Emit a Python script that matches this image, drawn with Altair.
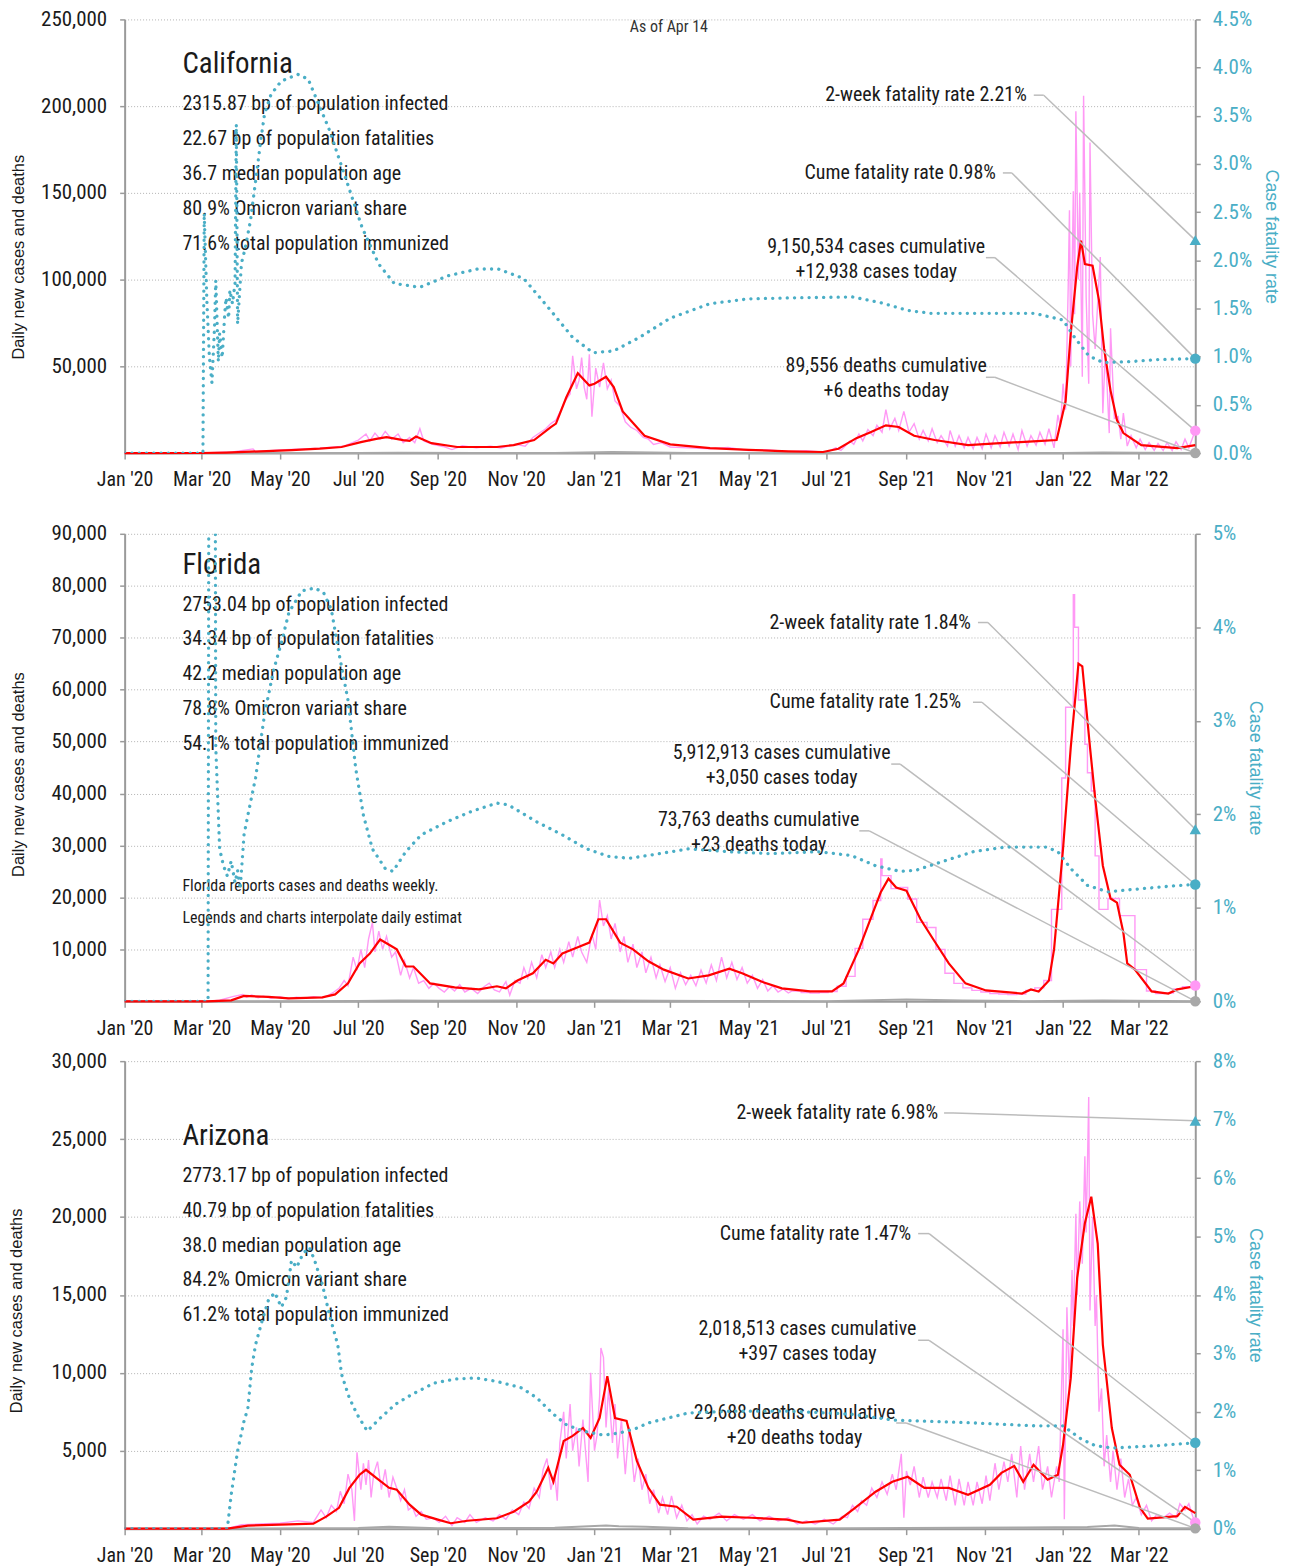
import altair as alt
import pandas as pd

FONT = "Roboto Condensed"
AXFONT = "Liberation Sans"
TEAL = "#4aaec6"
PINK = "#ff99f5"
RED = "#ff0000"
GRAY = "#a8a8a8"
LEADER = "#bcbcbc"
INK = "#1a1a1a"
AXC = "#9a9a9a"
W = 1074

# ---------------- California ----------------
CA_PINK = [("2020-01-01", 0), ("2020-03-01", 50), ("2020-03-25", 600), ("2020-04-10", 2400), ("2020-04-12", 800),
           ("2020-05-01", 1800), ("2020-06-01", 2800), ("2020-06-20", 4000), ("2020-07-01", 7500), ("2020-07-07", 11000),
           ("2020-07-10", 7000), ("2020-07-14", 11500), ("2020-07-18", 8000), ("2020-07-22", 12500), ("2020-07-27", 8000),
           ("2020-08-01", 11000), ("2020-08-05", 6000), ("2020-08-10", 9000), ("2020-08-14", 6000), ("2020-08-18", 14000),
           ("2020-08-21", 7000), ("2020-08-28", 5000), ("2020-09-05", 3800), ("2020-09-12", 2000), ("2020-09-20", 4200),
           ("2020-10-01", 3000), ("2020-10-12", 4000), ("2020-10-20", 2900), ("2020-11-01", 5000), ("2020-11-08", 4000),
           ("2020-11-14", 9000), ("2020-11-20", 12000), ("2020-11-24", 14000), ("2020-11-28", 17000), ("2020-12-02", 19000),
           ("2020-12-06", 25000), ("2020-12-09", 30000), ("2020-12-13", 34000), ("2020-12-15", 56000), ("2020-12-18", 37000),
           ("2020-12-20", 42000), ("2020-12-22", 55000), ("2020-12-24", 38000), ("2020-12-26", 31000), ("2020-12-28", 57000),
           ("2020-12-30", 21000), ("2021-01-02", 49000), ("2021-01-05", 38000), ("2021-01-08", 52000), ("2021-01-11", 37000),
           ("2021-01-14", 42000), ("2021-01-17", 30000), ("2021-01-21", 27000), ("2021-01-25", 18000), ("2021-01-29", 15000),
           ("2021-02-03", 13000), ("2021-02-08", 9000), ("2021-02-12", 8000), ("2021-02-16", 5000), ("2021-02-22", 6000),
           ("2021-03-01", 3500), ("2021-03-15", 3000), ("2021-04-01", 2500), ("2021-04-15", 3200), ("2021-05-01", 1500),
           ("2021-05-15", 2000), ("2021-06-01", 800), ("2021-06-15", 1300), ("2021-07-01", 400), ("2021-07-08", 3000),
           ("2021-07-12", 1500), ("2021-07-19", 7000), ("2021-07-22", 5000), ("2021-07-26", 11000), ("2021-07-29", 7000),
           ("2021-08-02", 13500), ("2021-08-06", 10000), ("2021-08-09", 16000), ("2021-08-13", 12000), ("2021-08-16", 25000),
           ("2021-08-19", 14000), ("2021-08-23", 20000), ("2021-08-26", 13000), ("2021-08-30", 24000), ("2021-09-03", 12000),
           ("2021-09-07", 17000), ("2021-09-11", 8000), ("2021-09-14", 13000), ("2021-09-18", 7000), ("2021-09-21", 14000),
           ("2021-09-25", 6000), ("2021-09-28", 10000), ("2021-10-03", 4000), ("2021-10-05", 13000), ("2021-10-09", 4000),
           ("2021-10-12", 10000), ("2021-10-16", 3000), ("2021-10-19", 9000), ("2021-10-23", 2500), ("2021-10-26", 9000),
           ("2021-10-30", 2500), ("2021-11-02", 11000), ("2021-11-06", 3000), ("2021-11-09", 10000), ("2021-11-13", 3500),
           ("2021-11-16", 12000), ("2021-11-20", 4000), ("2021-11-23", 11000), ("2021-11-27", 2000), ("2021-11-30", 13000),
           ("2021-12-04", 4000), ("2021-12-07", 10000), ("2021-12-11", 4500), ("2021-12-14", 12000), ("2021-12-18", 5000),
           ("2021-12-21", 14000), ("2021-12-25", 3000), ("2021-12-28", 22000), ("2021-12-30", 15000), ("2022-01-01", 40000),
           ("2022-01-03", 25000), ("2022-01-05", 95000), ("2022-01-06", 140000), ("2022-01-07", 50000), ("2022-01-09", 151000),
           ("2022-01-10", 80000), ("2022-01-11", 197000), ("2022-01-13", 100000), ("2022-01-14", 150000), ("2022-01-16", 44000),
           ("2022-01-17", 206000), ("2022-01-19", 90000), ("2022-01-21", 40000), ("2022-01-22", 179000), ("2022-01-24", 80000),
           ("2022-01-26", 60000), ("2022-01-30", 113000), ("2022-02-01", 23000), ("2022-02-03", 60000), ("2022-02-06", 11500),
           ("2022-02-07", 72000), ("2022-02-10", 20000), ("2022-02-13", 21000), ("2022-02-15", 8000), ("2022-02-17", 23000),
           ("2022-02-20", 4000), ("2022-02-23", 10000), ("2022-02-27", 3000), ("2022-03-02", 8000), ("2022-03-06", 2000),
           ("2022-03-09", 6000), ("2022-03-13", 1500), ("2022-03-16", 5500), ("2022-03-20", 1500), ("2022-03-23", 6000),
           ("2022-03-27", 1500), ("2022-03-30", 6500), ("2022-04-03", 2000), ("2022-04-06", 8000), ("2022-04-09", 3000),
           ("2022-04-12", 9000), ("2022-04-14", 12938)]
CA_RED = [("2020-01-01", 0), ("2020-03-01", 20), ("2020-03-20", 300), ("2020-04-08", 800), ("2020-05-10", 1700),
          ("2020-06-01", 2500), ("2020-06-18", 3500), ("2020-07-03", 6300), ("2020-07-15", 8200), ("2020-07-23", 9200),
          ("2020-08-05", 7500), ("2020-08-10", 7000), ("2020-08-15", 9500), ("2020-08-27", 5700), ("2020-09-16", 3500),
          ("2020-10-17", 3500), ("2020-10-30", 4600), ("2020-11-15", 7500), ("2020-11-28", 15000), ("2020-12-02", 17000),
          ("2020-12-10", 32000), ("2020-12-19", 46000), ("2020-12-28", 39000), ("2021-01-01", 40000), ("2021-01-10", 44000),
          ("2021-01-16", 38000), ("2021-01-23", 24000), ("2021-02-09", 10000), ("2021-03-01", 5000), ("2021-04-01", 2800),
          ("2021-05-01", 1800), ("2021-06-01", 1000), ("2021-06-28", 600), ("2021-07-10", 2500), ("2021-07-24", 8600),
          ("2021-08-04", 12000), ("2021-08-16", 16000), ("2021-08-26", 15000), ("2021-09-07", 10000), ("2021-09-23", 7500),
          ("2021-10-19", 4600), ("2021-11-13", 5700), ("2021-12-12", 6900), ("2021-12-27", 7500), ("2022-01-03", 30000),
          ("2022-01-07", 69000), ("2022-01-12", 107000), ("2022-01-15", 122500), ("2022-01-18", 109000), ("2022-01-24", 108000),
          ("2022-01-29", 88000), ("2022-02-02", 60000), ("2022-02-07", 36000), ("2022-02-12", 19000), ("2022-02-17", 11500),
          ("2022-03-03", 4600), ("2022-03-31", 2900), ("2022-04-14", 4600)]
CA_DEATHS = [("2020-01-01", 0), ("2020-04-01", 30), ("2020-05-01", 80), ("2020-07-01", 70), ("2020-08-01", 130),
             ("2020-10-01", 80), ("2020-12-01", 100), ("2021-01-15", 550), ("2021-02-15", 300), ("2021-03-15", 100),
             ("2021-05-01", 40), ("2021-07-01", 20), ("2021-09-01", 100), ("2021-11-01", 50), ("2022-01-01", 50),
             ("2022-02-01", 250), ("2022-03-01", 120), ("2022-04-14", 6)]
CA_CFR = [("2020-01-01", 0), ("2020-03-02", 0), ("2020-03-03", 2.49), ("2020-03-05", 1.6), ("2020-03-07", 1.0),
          ("2020-03-09", 0.73), ("2020-03-11", 1.3), ("2020-03-12", 1.79), ("2020-03-14", 0.95), ("2020-03-15", 1.24),
          ("2020-03-17", 0.99), ("2020-03-19", 1.45), ("2020-03-20", 1.61), ("2020-03-22", 1.40), ("2020-03-23", 1.69),
          ("2020-03-25", 1.55), ("2020-03-27", 1.76), ("2020-03-28", 3.41), ("2020-03-29", 1.34), ("2020-04-01", 1.97),
          ("2020-04-04", 2.13), ("2020-04-08", 2.41), ("2020-04-12", 2.82), ("2020-04-16", 3.24), ("2020-04-19", 3.52),
          ("2020-04-24", 3.72), ("2020-05-02", 3.86), ("2020-05-15", 3.93), ("2020-05-23", 3.88), ("2020-06-08", 3.37),
          ("2020-06-21", 2.86), ("2020-07-04", 2.34), ("2020-07-17", 1.96), ("2020-07-29", 1.76), ("2020-08-18", 1.72),
          ("2020-09-09", 1.84), ("2020-10-02", 1.91), ("2020-10-18", 1.91), ("2020-11-07", 1.81), ("2020-11-26", 1.51),
          ("2020-12-15", 1.20), ("2020-12-31", 1.04), ("2021-01-16", 1.06), ("2021-02-05", 1.20), ("2021-03-01", 1.40),
          ("2021-04-01", 1.55), ("2021-05-01", 1.60), ("2021-06-01", 1.61), ("2021-07-21", 1.62), ("2021-08-12", 1.56),
          ("2021-09-02", 1.48), ("2021-09-20", 1.45), ("2021-12-10", 1.45), ("2022-01-01", 1.38), ("2022-01-10", 1.20),
          ("2022-01-21", 1.01), ("2022-02-01", 0.94), ("2022-02-24", 0.95), ("2022-03-15", 0.97), ("2022-04-14", 0.98)]
CA_TODAY = {"cases": 12938, "deaths": 6, "cfr2w": 2.21, "cume": 0.98}
CA_STATS = ["2315.87 bp of population infected", "22.67 bp of population fatalities", "36.7 median population age",
            "80.9% Omicron variant share", "71.6% total population immunized"]
CA_LABELS = ["2-week fatality rate 2.21%", "Cume fatality rate 0.98%", "9,150,534 cases cumulative",
             "+12,938 cases today", "89,556 deaths cumulative", "+6 deaths today"]
CA_YTICKS = [50000, 100000, 150000, 200000, 250000]
CA_CTICKS = [0, 0.5, 1.0, 1.5, 2.0, 2.5, 3.0, 3.5, 4.0, 4.5]

# ---------------- Florida ----------------
FL_PINK = [("2020-01-01", 0), ("2020-03-05", 0), ("2020-03-15", 200), ("2020-03-25", 900), ("2020-04-02", 1300),
           ("2020-04-05", 800), ("2020-04-09", 1200), ("2020-04-14", 700), ("2020-04-18", 1000), ("2020-04-24", 600),
           ("2020-05-01", 900), ("2020-05-07", 500), ("2020-05-14", 800), ("2020-05-20", 600), ("2020-05-27", 900),
           ("2020-06-03", 700), ("2020-06-08", 1200), ("2020-06-12", 1800), ("2020-06-16", 2500), ("2020-06-20", 4000),
           ("2020-06-23", 3000), ("2020-06-27", 8500), ("2020-06-30", 6000), ("2020-07-03", 10000), ("2020-07-06", 6500),
           ("2020-07-09", 12000), ("2020-07-12", 15200), ("2020-07-14", 9500), ("2020-07-17", 13500), ("2020-07-20", 10000),
           ("2020-07-23", 12500), ("2020-07-27", 8500), ("2020-07-30", 9500), ("2020-08-03", 5000), ("2020-08-06", 7800),
           ("2020-08-10", 4500), ("2020-08-13", 6500), ("2020-08-17", 3500), ("2020-08-21", 4000), ("2020-08-25", 2500),
           ("2020-08-29", 3500), ("2020-09-02", 2500), ("2020-09-06", 1800), ("2020-09-10", 2800), ("2020-09-14", 2000),
           ("2020-09-18", 3200), ("2020-09-22", 1800), ("2020-09-27", 2500), ("2020-10-02", 1500), ("2020-10-07", 2800),
           ("2020-10-11", 3500), ("2020-10-15", 2200), ("2020-10-19", 1800), ("2020-10-24", 3800), ("2020-10-27", 1200),
           ("2020-10-31", 4000), ("2020-11-04", 3500), ("2020-11-07", 6500), ("2020-11-10", 4500), ("2020-11-13", 7500),
           ("2020-11-17", 4500), ("2020-11-21", 9000), ("2020-11-24", 6500), ("2020-11-28", 9500), ("2020-12-01", 6500),
           ("2020-12-05", 10000), ("2020-12-08", 7500), ("2020-12-12", 11500), ("2020-12-15", 8500), ("2020-12-19", 12500),
           ("2020-12-22", 9500), ("2020-12-26", 7500), ("2020-12-30", 13000), ("2021-01-02", 10000), ("2021-01-05", 19500),
           ("2021-01-08", 14500), ("2021-01-11", 16500), ("2021-01-14", 12000), ("2021-01-17", 15000), ("2021-01-21", 9500),
           ("2021-01-24", 12500), ("2021-01-27", 7500), ("2021-01-31", 11000), ("2021-02-03", 6500), ("2021-02-07", 9500),
           ("2021-02-10", 5500), ("2021-02-14", 8500), ("2021-02-18", 4500), ("2021-02-21", 7000), ("2021-02-25", 3800),
           ("2021-03-01", 6500), ("2021-03-05", 2500), ("2021-03-09", 5500), ("2021-03-13", 3200), ("2021-03-17", 5000),
           ("2021-03-21", 3000), ("2021-03-25", 6000), ("2021-03-29", 3500), ("2021-04-02", 7000), ("2021-04-06", 4000),
           ("2021-04-10", 8500), ("2021-04-14", 4500), ("2021-04-18", 7500), ("2021-04-22", 4200), ("2021-04-26", 6500),
           ("2021-04-30", 3500), ("2021-05-04", 5000), ("2021-05-08", 2500), ("2021-05-12", 4200), ("2021-05-16", 2000),
           ("2021-05-20", 3000), ("2021-05-24", 1800), ("2021-05-28", 2400), ("2021-06-01", 1600), ("2021-06-04", 2000)]
FL_PINK_WEEKLY = [("2021-06-04", 2000), ("2021-06-11", 1700), ("2021-06-18", 1600), ("2021-06-25", 1700),
                  ("2021-07-02", 1900), ("2021-07-09", 2900), ("2021-07-16", 4800), ("2021-07-23", 10200),
                  ("2021-07-29", 15800), ("2021-08-06", 19400), ("2021-08-12", 27400), ("2021-08-13", 24200),
                  ("2021-08-20", 21700), ("2021-08-27", 21900), ("2021-09-02", 19700), ("2021-09-09", 15200),
                  ("2021-09-17", 14200), ("2021-09-24", 10000), ("2021-10-01", 5400), ("2021-10-08", 3450),
                  ("2021-10-15", 2600), ("2021-10-22", 2100), ("2021-10-29", 1800), ("2021-11-05", 1500),
                  ("2021-11-12", 1400), ("2021-11-19", 1300), ("2021-11-26", 1400), ("2021-12-03", 2100),
                  ("2021-12-10", 2600), ("2021-12-17", 4000), ("2021-12-23", 17700), ("2021-12-31", 43000),
                  ("2022-01-03", 56600), ("2022-01-09", 78300), ("2022-01-10", 72000), ("2022-01-13", 58000),
                  ("2022-01-18", 49500), ("2022-01-20", 44000), ("2022-01-23", 40500), ("2022-01-26", 28000),
                  ("2022-01-29", 17700), ("2022-02-05", 19800), ("2022-02-14", 16500), ("2022-02-26", 6100),
                  ("2022-03-07", 2000), ("2022-03-14", 1500), ("2022-03-21", 1600), ("2022-03-28", 2400),
                  ("2022-04-04", 2800), ("2022-04-11", 3050), ("2022-04-14", 3050)]
FL_RED = [("2020-01-01", 0), ("2020-03-05", 0), ("2020-03-24", 200), ("2020-04-03", 1050), ("2020-04-22", 860),
          ("2020-05-08", 580), ("2020-06-03", 770), ("2020-06-13", 1340), ("2020-06-23", 3450), ("2020-07-02", 7300),
          ("2020-07-10", 9200), ("2020-07-18", 11900), ("2020-07-25", 10900), ("2020-07-31", 10000), ("2020-08-07", 6700),
          ("2020-08-13", 6700), ("2020-08-26", 3450), ("2020-09-14", 2700), ("2020-10-03", 2300), ("2020-10-17", 2900),
          ("2020-10-24", 2500), ("2020-11-02", 4000), ("2020-11-14", 5400), ("2020-11-24", 8000), ("2020-11-30", 7300),
          ("2020-12-07", 9200), ("2020-12-20", 10500), ("2020-12-28", 11300), ("2021-01-04", 15800), ("2021-01-10", 15800),
          ("2021-01-21", 11300), ("2021-01-31", 10000), ("2021-02-12", 7700), ("2021-02-24", 6100), ("2021-03-15", 4400),
          ("2021-03-31", 5000), ("2021-04-16", 6300), ("2021-04-26", 5400), ("2021-05-11", 3800), ("2021-05-27", 2500),
          ("2021-06-18", 1900), ("2021-07-05", 1900), ("2021-07-14", 3450), ("2021-07-26", 10000), ("2021-08-05", 16500),
          ("2021-08-12", 21000), ("2021-08-18", 23600), ("2021-08-24", 21900), ("2021-09-01", 21300), ("2021-09-12", 15800),
          ("2021-09-22", 11900), ("2021-10-04", 7300), ("2021-10-17", 3450), ("2021-11-02", 2100), ("2021-11-30", 1500),
          ("2021-12-07", 2300), ("2021-12-13", 1900), ("2021-12-21", 4000), ("2021-12-25", 10000), ("2022-01-01", 29400),
          ("2022-01-07", 48900), ("2022-01-13", 65000), ("2022-01-16", 64500), ("2022-01-22", 48900), ("2022-01-26", 39100),
          ("2022-02-01", 26100), ("2022-02-07", 19800), ("2022-02-12", 19000), ("2022-02-17", 13200), ("2022-02-20", 7300),
          ("2022-02-26", 6100), ("2022-03-11", 1900), ("2022-03-24", 1500), ("2022-03-31", 2300), ("2022-04-14", 2900)]
FL_DEATHS = [("2020-01-01", 0), ("2020-04-01", 30), ("2020-07-01", 50), ("2020-08-01", 180), ("2020-09-01", 120),
             ("2021-01-15", 170), ("2021-04-01", 60), ("2021-07-01", 40), ("2021-09-01", 330), ("2021-10-15", 150),
             ("2021-12-01", 30), ("2022-02-01", 150), ("2022-04-14", 23)]
FL_CFR = [("2020-01-01", 0), ("2020-03-06", 0), ("2020-03-07", 10), ("2020-03-11", 10), ("2020-03-12", 2.72),
          ("2020-03-15", 1.63), ("2020-03-18", 1.45), ("2020-03-21", 1.34), ("2020-03-24", 1.5), ("2020-03-27", 1.27),
          ("2020-03-29", 1.4), ("2020-03-31", 1.20), ("2020-04-03", 1.78), ("2020-04-06", 1.99), ("2020-04-12", 2.39),
          ("2020-04-19", 3.07), ("2020-04-26", 3.54), ("2020-05-02", 3.83), ("2020-05-08", 4.16), ("2020-05-18", 4.39),
          ("2020-05-28", 4.42), ("2020-06-04", 4.37), ("2020-06-10", 4.19), ("2020-06-16", 3.72), ("2020-06-23", 3.22),
          ("2020-06-29", 2.49), ("2020-07-05", 1.99), ("2020-07-12", 1.63), ("2020-07-22", 1.42), ("2020-07-28", 1.39),
          ("2020-08-07", 1.60), ("2020-08-19", 1.78), ("2020-09-08", 1.92), ("2020-09-27", 2.03), ("2020-10-17", 2.12),
          ("2020-10-26", 2.10), ("2020-11-17", 1.92), ("2020-12-07", 1.78), ("2020-12-26", 1.63), ("2021-01-12", 1.55),
          ("2021-01-28", 1.53), ("2021-02-12", 1.56), ("2021-03-15", 1.63), ("2021-04-16", 1.60), ("2021-05-17", 1.58),
          ("2021-06-24", 1.60), ("2021-07-20", 1.56), ("2021-08-08", 1.45), ("2021-08-27", 1.39), ("2021-09-08", 1.40),
          ("2021-09-28", 1.49), ("2021-10-23", 1.60), ("2021-11-17", 1.65), ("2021-12-19", 1.65), ("2021-12-28", 1.60),
          ("2022-01-07", 1.42), ("2022-01-20", 1.24), ("2022-02-05", 1.17), ("2022-02-27", 1.20), ("2022-03-24", 1.23),
          ("2022-04-14", 1.25)]
FL_TODAY = {"cases": 3050, "deaths": 23, "cfr2w": 1.84, "cume": 1.25}
FL_STATS = ["2753.04 bp of population infected", "34.34 bp of population fatalities", "42.2 median population age",
            "78.8% Omicron variant share", "54.1% total population immunized"]
FL_NOTES = ["Florida reports cases and deaths weekly.", "Legends and charts interpolate daily estimates"]
FL_LABELS = ["2-week fatality rate 1.84%", "Cume fatality rate 1.25%", "5,912,913 cases cumulative",
             "+3,050 cases today", "73,763 deaths cumulative", "+23 deaths today"]
FL_YTICKS = [10000, 20000, 30000, 40000, 50000, 60000, 70000, 80000, 90000]
FL_CTICKS = [0, 1, 2, 3, 4, 5]

# ---------------- Arizona ----------------
AZ_PINK = [("2020-01-01", 0), ("2020-03-21", 0), ("2020-04-01", 250), ("2020-04-15", 300), ("2020-05-01", 350),
           ("2020-05-15", 500), ("2020-05-27", 400), ("2020-06-02", 1200), ("2020-06-06", 700), ("2020-06-10", 1500),
           ("2020-06-14", 1100), ("2020-06-17", 2400), ("2020-06-20", 1600), ("2020-06-23", 3500), ("2020-06-26", 2500),
           ("2020-06-28", 500), ("2020-06-30", 4900), ("2020-07-03", 2500), ("2020-07-05", 4200), ("2020-07-07", 2800),
           ("2020-07-09", 4400), ("2020-07-11", 2000), ("2020-07-13", 3500), ("2020-07-16", 4300), ("2020-07-19", 2500),
           ("2020-07-22", 3800), ("2020-07-25", 2000), ("2020-07-28", 3300), ("2020-07-31", 2600), ("2020-08-03", 1800),
           ("2020-08-06", 2500), ("2020-08-09", 1200), ("2020-08-12", 1400), ("2020-08-15", 800), ("2020-08-19", 1100),
           ("2020-08-23", 600), ("2020-08-28", 700), ("2020-09-02", 400), ("2020-09-07", 800), ("2020-09-12", 200),
           ("2020-09-16", 700), ("2020-09-22", 400), ("2020-09-26", 900), ("2020-10-01", 400), ("2020-10-08", 700),
           ("2020-10-14", 500), ("2020-10-19", 900), ("2020-10-24", 600), ("2020-10-29", 1200), ("2020-11-03", 900),
           ("2020-11-07", 1700), ("2020-11-11", 1300), ("2020-11-15", 2600), ("2020-11-19", 2000), ("2020-11-22", 3800),
           ("2020-11-25", 4500), ("2020-11-28", 2500), ("2020-12-01", 3500), ("2020-12-03", 1800), ("2020-12-05", 5500),
           ("2020-12-08", 7500), ("2020-12-10", 4500), ("2020-12-13", 8000), ("2020-12-15", 5000), ("2020-12-18", 6500),
           ("2020-12-20", 4000), ("2020-12-23", 7000), ("2020-12-27", 3000), ("2020-12-29", 10000), ("2021-01-01", 5000),
           ("2021-01-03", 6000), ("2021-01-05", 8500), ("2021-01-06", 11600), ("2021-01-08", 11000), ("2021-01-10", 6500),
           ("2021-01-12", 9000), ("2021-01-15", 5500), ("2021-01-17", 8000), ("2021-01-19", 4500), ("2021-01-22", 7000),
           ("2021-01-25", 3500), ("2021-01-28", 6500), ("2021-02-01", 3000), ("2021-02-04", 4500), ("2021-02-07", 2500),
           ("2021-02-10", 3500), ("2021-02-13", 1600), ("2021-02-16", 2500), ("2021-02-20", 1000), ("2021-02-23", 2000),
           ("2021-02-27", 900), ("2021-03-02", 2100), ("2021-03-06", 700), ("2021-03-10", 1500), ("2021-03-14", 500),
           ("2021-03-18", 900), ("2021-03-22", 300), ("2021-03-27", 800), ("2021-04-01", 600), ("2021-04-08", 1000),
           ("2021-04-14", 500), ("2021-04-20", 900), ("2021-04-27", 600), ("2021-05-04", 900), ("2021-05-10", 500),
           ("2021-05-17", 800), ("2021-05-24", 500), ("2021-06-01", 700), ("2021-06-08", 300), ("2021-06-15", 500),
           ("2021-06-22", 300), ("2021-06-29", 600), ("2021-07-06", 300), ("2021-07-13", 800), ("2021-07-17", 700),
           ("2021-07-21", 1500), ("2021-07-25", 1100), ("2021-07-28", 1800), ("2021-08-01", 1500), ("2021-08-05", 2600),
           ("2021-08-09", 2000), ("2021-08-13", 3000), ("2021-08-17", 2200), ("2021-08-21", 3500), ("2021-08-24", 2500),
           ("2021-08-28", 4800), ("2021-08-30", 700), ("2021-09-01", 3700), ("2021-09-04", 2800), ("2021-09-07", 4000),
           ("2021-09-11", 2000), ("2021-09-14", 3300), ("2021-09-18", 2000), ("2021-09-21", 3000), ("2021-09-25", 2000),
           ("2021-09-28", 3200), ("2021-10-02", 1800), ("2021-10-05", 3400), ("2021-10-09", 1500), ("2021-10-12", 3200),
           ("2021-10-16", 1500), ("2021-10-19", 3000), ("2021-10-23", 1500), ("2021-10-26", 3000), ("2021-10-30", 1600),
           ("2021-11-02", 3400), ("2021-11-05", 1800), ("2021-11-09", 4200), ("2021-11-12", 2500), ("2021-11-16", 4300),
           ("2021-11-19", 3000), ("2021-11-22", 4800), ("2021-11-26", 2000), ("2021-11-29", 5300), ("2021-12-02", 2500),
           ("2021-12-06", 4800), ("2021-12-09", 3000), ("2021-12-13", 5300), ("2021-12-16", 2500), ("2021-12-20", 4000),
           ("2021-12-23", 2000), ("2021-12-27", 4000), ("2021-12-29", 3000), ("2022-01-01", 12800), ("2022-01-02", 600),
           ("2022-01-04", 14200), ("2022-01-06", 9000), ("2022-01-08", 16600), ("2022-01-09", 13000), ("2022-01-11", 20200),
           ("2022-01-12", 15000), ("2022-01-14", 21000), ("2022-01-16", 17000), ("2022-01-18", 23900), ("2022-01-19", 19000),
           ("2022-01-21", 27700), ("2022-01-22", 14000), ("2022-01-24", 20000), ("2022-01-26", 13000), ("2022-01-27", 15000),
           ("2022-01-29", 7500), ("2022-01-31", 9000), ("2022-02-02", 4000), ("2022-02-04", 6000), ("2022-02-07", 3000),
           ("2022-02-09", 5000), ("2022-02-12", 2500), ("2022-02-15", 4500), ("2022-02-18", 2000), ("2022-02-21", 3200),
           ("2022-02-24", 1500), ("2022-02-27", 2000), ("2022-03-03", 900), ("2022-03-07", 1500), ("2022-03-11", 500),
           ("2022-03-15", 900), ("2022-03-20", 700), ("2022-03-25", 1000), ("2022-03-30", 700), ("2022-04-02", 1600),
           ("2022-04-06", 1200), ("2022-04-09", 1600), ("2022-04-12", 800), ("2022-04-14", 397)]
AZ_RED = [("2020-01-01", 0), ("2020-03-21", 0), ("2020-04-06", 200), ("2020-05-08", 280), ("2020-05-27", 320),
          ("2020-06-06", 770), ("2020-06-16", 1340), ("2020-06-24", 2600), ("2020-07-02", 3460), ("2020-07-07", 3780),
          ("2020-07-15", 3260), ("2020-07-25", 2620), ("2020-07-31", 2500), ("2020-08-10", 1540), ("2020-08-19", 900),
          ("2020-09-01", 580), ("2020-09-11", 350), ("2020-09-24", 510), ("2020-10-17", 670), ("2020-10-30", 1090),
          ("2020-11-11", 1730), ("2020-11-17", 2370), ("2020-11-26", 3900), ("2020-11-30", 3010), ("2020-12-08", 5630),
          ("2020-12-15", 5950), ("2020-12-23", 6460), ("2020-12-29", 5820), ("2021-01-05", 7100), ("2021-01-11", 9790),
          ("2021-01-17", 7100), ("2021-01-26", 6910), ("2021-02-03", 4350), ("2021-02-12", 2620), ("2021-02-21", 1540),
          ("2021-03-06", 1410), ("2021-03-19", 580), ("2021-04-10", 770), ("2021-05-03", 700), ("2021-05-31", 580),
          ("2021-06-12", 380), ("2021-07-11", 580), ("2021-07-23", 1340), ("2021-08-08", 2370), ("2021-08-21", 3010),
          ("2021-09-02", 3330), ("2021-09-15", 2620), ("2021-10-04", 2620), ("2021-10-19", 2180), ("2021-11-05", 2820),
          ("2021-11-14", 3580), ("2021-11-24", 4030), ("2021-12-01", 3010), ("2021-12-09", 4100), ("2021-12-20", 3140),
          ("2021-12-28", 3460), ("2022-01-01", 5380), ("2022-01-07", 9660), ("2022-01-12", 16100), ("2022-01-18", 19600),
          ("2022-01-23", 21300), ("2022-01-28", 18300), ("2022-02-01", 11800), ("2022-02-08", 6460), ("2022-02-14", 4100),
          ("2022-02-22", 3460), ("2022-03-02", 1340), ("2022-03-08", 640), ("2022-03-31", 800), ("2022-04-06", 1400),
          ("2022-04-14", 1000)]
AZ_DEATHS = [("2020-01-01", 0), ("2020-04-01", 10), ("2020-07-01", 50), ("2020-07-25", 120), ("2020-09-01", 30),
             ("2020-12-01", 60), ("2021-01-10", 200), ("2021-01-20", 150), ("2021-02-10", 120), ("2021-03-15", 30),
             ("2021-06-01", 10), ("2021-09-01", 40), ("2021-12-01", 80), ("2022-01-20", 100), ("2022-02-10", 200),
             ("2022-03-01", 50), ("2022-04-14", 20)]
AZ_CFR = [("2020-01-01", 0), ("2020-03-21", 0), ("2020-03-24", 0.58), ("2020-03-29", 1.33), ("2020-04-03", 1.84),
          ("2020-04-06", 2.06), ("2020-04-09", 2.75), ("2020-04-12", 3.15), ("2020-04-17", 3.55), ("2020-04-22", 3.91),
          ("2020-04-27", 4.04), ("2020-05-02", 3.79), ("2020-05-06", 3.96), ("2020-05-10", 4.59), ("2020-05-14", 4.47),
          ("2020-05-19", 4.71), ("2020-05-24", 4.81), ("2020-05-28", 4.59), ("2020-06-03", 4.18), ("2020-06-09", 3.62),
          ("2020-06-15", 3.15), ("2020-06-18", 2.64), ("2020-06-24", 2.24), ("2020-06-30", 1.96), ("2020-07-08", 1.67),
          ("2020-07-18", 1.89), ("2020-07-30", 2.13), ("2020-08-12", 2.30), ("2020-08-29", 2.49), ("2020-09-14", 2.56),
          ("2020-09-30", 2.58), ("2020-10-17", 2.52), ("2020-11-05", 2.41), ("2020-11-17", 2.24), ("2020-11-30", 1.96),
          ("2020-12-10", 1.78), ("2020-12-23", 1.67), ("2021-01-08", 1.60), ("2021-01-21", 1.64), ("2021-02-03", 1.72),
          ("2021-02-12", 1.81), ("2021-03-15", 1.98), ("2021-04-16", 2.01), ("2021-06-03", 2.01), ("2021-07-20", 1.96),
          ("2021-08-21", 1.86), ("2021-10-23", 1.81), ("2021-12-10", 1.76), ("2022-01-01", 1.76), ("2022-01-14", 1.55),
          ("2022-01-26", 1.42), ("2022-02-08", 1.38), ("2022-03-15", 1.42), ("2022-04-14", 1.47)]
AZ_TODAY = {"cases": 397, "deaths": 20, "cfr2w": 6.98, "cume": 1.47}
AZ_STATS = ["2773.17 bp of population infected", "40.79 bp of population fatalities", "38.0 median population age",
            "84.2% Omicron variant share", "61.2% total population immunized"]
AZ_LABELS = ["2-week fatality rate 6.98%", "Cume fatality rate 1.47%", "2,018,513 cases cumulative",
             "+397 cases today", "29,688 deaths cumulative", "+20 deaths today"]
AZ_YTICKS = [5000, 10000, 15000, 20000, 25000, 30000]
AZ_CTICKS = [0, 1, 2, 3, 4, 5, 6, 7, 8]

TODAY_DATE = "2022-04-14"


def frame(pairs):
    return pd.DataFrame({"date": [d + "T00:00:00" for d, _ in pairs],
                         "v": [v for _, v in pairs],
                         "i": list(range(len(pairs)))})


ONE = pd.DataFrame({"k": [0]})


def xenc():
    return alt.X("date:T",
                 scale=alt.Scale(domain=[alt.DateTime(year=2020, month=1, date=1),
                                         alt.DateTime(year=2022, month=4, date=14)], nice=False),
                 axis=alt.Axis(title=None, format="%b '%y", tickCount={"interval": "month", "step": 2},
                               labelFlush=False, labelOverlap=False, labelFont=FONT, labelFontSize=20,
                               labelColor=INK, labelPadding=11, tickSize=6, tickColor=AXC, tickWidth=1.5,
                               domainColor=AXC, domainWidth=2, grid=False))


def text_layer(txt, x, y, size=20, align="left", limit=None, color=INK):
    kw = dict(font=FONT, fontSize=size, align=align, baseline="middle", color=color)
    if limit is not None:
        kw["limit"] = limit
        kw["ellipsis"] = "\u200b"
    return alt.Chart(ONE).mark_text(**kw).encode(x=alt.value(x), y=alt.value(y), text=alt.value(txt))


def hseg(xa, xb, y):
    return alt.Chart(ONE).mark_rule(color=LEADER, strokeWidth=1.5).encode(
        x=alt.value(xa), x2=alt.value(xb), y=alt.value(y))


def panel(H, ymax, yticks, cmax, cticks, cfmt, pink, red, deaths, cfr, today, stats, labels, title, title_y,
          stats_y, lay, ytitle_y, ytitle_pad, pink_weekly=None, notes=None, asof=None, spacer=None):
    x = xenc()
    yl = alt.Y("v:Q", scale=alt.Scale(domain=[0, ymax], nice=False),
               axis=alt.Axis(orient="left", values=yticks, format=",d", title="Daily new cases and deaths",
                             titleFont=AXFONT, titleFontSize=16.5, titleFontWeight="normal", titleColor=INK,
                             titlePadding=ytitle_pad, titleY=ytitle_y,
                             labelFont=FONT, labelFontSize=21, labelColor=INK, labelPadding=13,
                             tickSize=5, tickColor=AXC, tickWidth=1.5, domainColor=AXC, domainWidth=2,
                             grid=True, gridColor="#b3b3b3", gridDash=[1, 2], gridWidth=1))
    yr = alt.Y("v:Q", scale=alt.Scale(domain=[0, cmax], nice=False),
               axis=alt.Axis(orient="right", values=cticks,
                             labelExpr="format(datum.value, '" + cfmt + "') + '%'",
                             title="Case fatality rate", titleFont=AXFONT, titleFontSize=18,
                             titleFontWeight="normal", titleColor=TEAL, titlePadding=10,
                             labelFont=FONT, labelFontSize=21, labelColor=TEAL, labelPadding=12,
                             tickSize=5, tickColor=AXC, tickWidth=1.5, domainColor=AXC, domainWidth=2,
                             grid=False))

    left = []
    left.append(alt.Chart(frame(pink)).mark_line(color=PINK, strokeWidth=1.4).encode(
        x=x, y=yl, order="i:Q"))
    if pink_weekly is not None:
        left.append(alt.Chart(frame(pink_weekly)).mark_line(color=PINK, strokeWidth=1.4,
                                                            interpolate="step-after").encode(
            x=x, y=yl, order="i:Q"))
    left.append(alt.Chart(frame(deaths)).mark_line(color=GRAY, strokeWidth=2).encode(x=x, y=yl, order="i:Q"))
    left.append(alt.Chart(frame(red)).mark_line(color=RED, strokeWidth=2.2).encode(x=x, y=yl, order="i:Q"))

    cases_df = frame([(TODAY_DATE, today["cases"])])
    deaths_df = frame([(TODAY_DATE, today["deaths"])])
    left.append(hseg(lay["cases"][0], lay["cases"][1], lay["cases"][2]))
    left.append(alt.Chart(cases_df).mark_rule(color=LEADER, strokeWidth=1.5).encode(
        x=x, y=yl, x2=alt.value(lay["cases"][1]), y2=alt.value(lay["cases"][2])))
    left.append(hseg(lay["deaths"][0], lay["deaths"][1], lay["deaths"][2]))
    left.append(alt.Chart(deaths_df).mark_rule(color=LEADER, strokeWidth=1.5).encode(
        x=x, y=yl, x2=alt.value(lay["deaths"][1]), y2=alt.value(lay["deaths"][2])))
    left.append(alt.Chart(cases_df).mark_point(shape="circle", filled=True, size=110, color=PINK, opacity=1).encode(
        x=x, y=yl))
    left.append(alt.Chart(deaths_df).mark_point(shape="circle", filled=True, size=110, color=GRAY, opacity=1).encode(
        x=x, y=yl))

    left.append(text_layer(title, 58, title_y, size=29))
    for s, yy in zip(stats, stats_y):
        left.append(text_layer(s, 58, yy))
    if notes is not None:
        left.append(text_layer(notes[0], 58, lay["notes"][0], size=16))
        left.append(text_layer(notes[1], 58, lay["notes"][1], size=16, limit=288))
    if asof is not None:
        left.append(text_layer(asof[0], asof[1], asof[2], size=16, align="center", color="#333333"))
    left.append(text_layer(labels[0], lay["l2w"][0], lay["l2w"][1], align="right"))
    left.append(text_layer(labels[1], lay["lcume"][0], lay["lcume"][1], align="right"))
    left.append(text_layer(labels[2], lay["lcases"][0], lay["lcases"][1], align="center"))
    left.append(text_layer(labels[3], lay["lcases"][0], lay["lcases"][1] + 25, align="center"))
    left.append(text_layer(labels[4], lay["ldeaths"][0], lay["ldeaths"][1], align="center"))
    left.append(text_layer(labels[5], lay["ldeaths"][0], lay["ldeaths"][1] + 25, align="center"))
    if spacer is not None:
        left.append(alt.Chart(ONE).mark_rule(opacity=0, strokeWidth=1).encode(
            x=alt.value(-60), y=alt.value(H), y2=alt.value(H + spacer)))

    right = []
    right.append(alt.Chart(frame(cfr)).mark_line(color=TEAL, strokeWidth=3.3, strokeDash=[0.1, 7.2],
                                                 strokeCap="round", clip=True).encode(x=x, y=yr, order="i:Q"))
    tri_df = frame([(TODAY_DATE, today["cfr2w"])])
    cume_df = frame([(TODAY_DATE, today["cume"])])
    right.append(hseg(lay["tw"][0], lay["tw"][1], lay["tw"][2]))
    right.append(alt.Chart(tri_df).mark_rule(color=LEADER, strokeWidth=1.5).encode(
        x=x, y=yr, x2=alt.value(lay["tw"][1]), y2=alt.value(lay["tw"][2])))
    right.append(hseg(lay["cu"][0], lay["cu"][1], lay["cu"][2]))
    right.append(alt.Chart(cume_df).mark_rule(color=LEADER, strokeWidth=1.5).encode(
        x=x, y=yr, x2=alt.value(lay["cu"][1]), y2=alt.value(lay["cu"][2])))
    right.append(alt.Chart(tri_df).mark_point(shape="triangle-up", filled=True, size=130, color=TEAL,
                                              opacity=1).encode(x=x, y=yr))
    right.append(alt.Chart(cume_df).mark_point(shape="circle", filled=True, size=110, color=TEAL,
                                               opacity=1).encode(x=x, y=yr))

    return alt.layer(alt.layer(*left), alt.layer(*right)).resolve_scale(y="independent").properties(
        width=W, height=H)


ca = panel(435, 250000, CA_YTICKS, 4.5, CA_CTICKS, ".1f", CA_PINK, CA_RED, CA_DEATHS, CA_CFR, CA_TODAY,
           CA_STATS, CA_LABELS, "California", 45, [85, 120, 155, 190, 225],
           {"cases": (864, 873, 239), "deaths": (864, 873, 359), "tw": (912, 922, 76), "cu": (881, 890, 154),
            "l2w": (905, 76), "lcume": (874, 154), "lcases": (754, 228), "ldeaths": (764, 348)},
           238, 14, asof=("As of Apr 14", 546, 8), spacer=58)
fl = panel(469, 90000, FL_YTICKS, 5, FL_CTICKS, ".0f", FL_PINK, FL_RED, FL_DEATHS, FL_CFR, FL_TODAY,
           FL_STATS, FL_LABELS, "Florida", 31, [71, 106, 141, 176, 211],
           {"cases": (769, 778, 231), "deaths": (737, 747, 298), "tw": (856, 866, 89), "cu": (851, 860, 169),
            "l2w": (849, 89), "lcume": (839, 169), "lcases": (659, 220), "ldeaths": (636, 287),
            "notes": (353, 385)},
           241, 24, pink_weekly=FL_PINK_WEEKLY, notes=FL_NOTES)
az = panel(469, 30000, AZ_YTICKS, 8, AZ_CTICKS, ".0f", AZ_PINK, AZ_RED, AZ_DEATHS, AZ_CFR, AZ_TODAY,
           AZ_STATS, AZ_LABELS, "Arizona", 75, [115, 150, 185, 220, 255],
           {"cases": (796, 807, 280), "deaths": (774, 784, 363), "tw": (822, 832, 52), "cu": (796, 807, 173),
            "l2w": (816, 52), "lcume": (789, 173), "lcases": (685, 269), "ldeaths": (672, 353)},
           250, 26)

chart = alt.vconcat(ca, fl, az, spacing=10).properties(
    padding={"left": 0, "top": -3, "right": 0, "bottom": 0}
).configure_view(stroke="transparent")

chart.save("out.html", embed_options={"renderer": "svg", "actions": False})
